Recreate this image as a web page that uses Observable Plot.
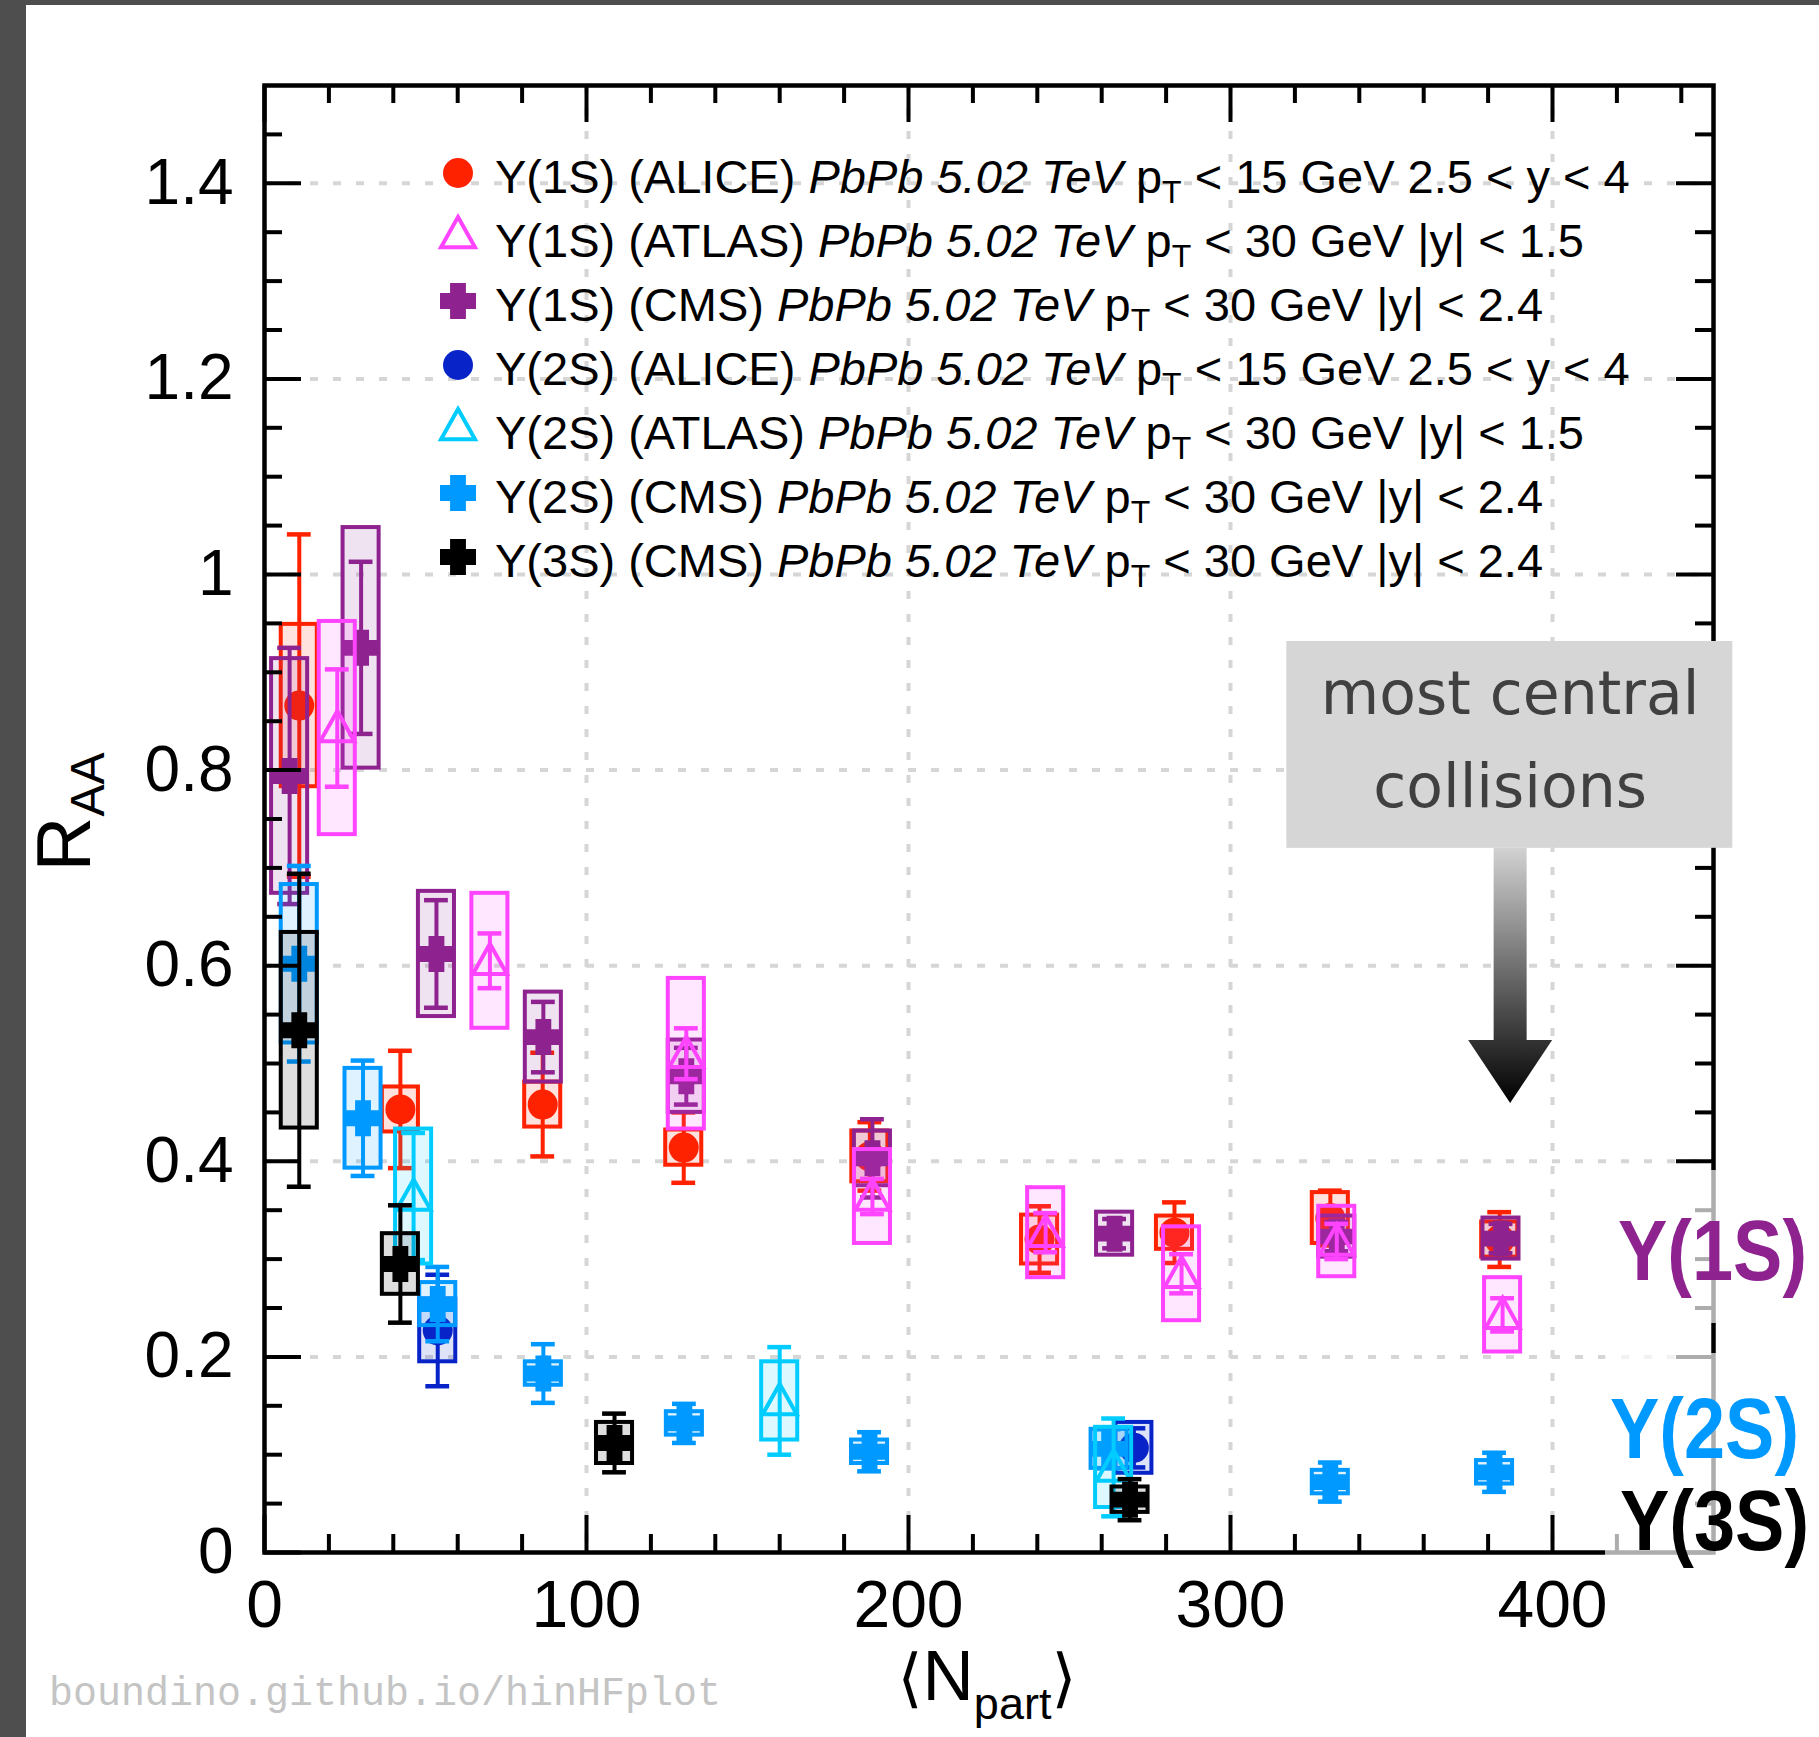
<!DOCTYPE html>
<html>
<head>
<meta charset="utf-8">
<script src="https://cdn.jsdelivr.net/npm/d3@7"></script>
<script src="https://cdn.jsdelivr.net/npm/@observablehq/plot@0.6"></script>
<style>
  html, body { margin: 0; padding: 0; background: #4e4e4e; }
  #wrap { position: relative; width: 1819px; height: 1737px; overflow: hidden; }
  #paper { position: absolute; left: 26px; top: 5px; right: 0; bottom: 0; background: #ffffff; }
  #chart { position: absolute; left: 0; top: 0; }
</style>
</head>
<body>
<div id="wrap"><div id="paper"></div><div id="chart"></div></div>
<script>
// ---------------- data ----------------
// Υ(1S) ALICE
const alice1S_npart = [10.8, 42.2, 86.4, 130.2, 188.0, 240.7, 282.6, 331.0, 383.6];
const alice1S_raa   = [0.866, 0.453, 0.458, 0.414, 0.405, 0.320, 0.327, 0.342, 0.320];
const alice1S_stat  = [0.175, 0.060, 0.053, 0.036, 0.035, 0.034, 0.031, 0.028, 0.028];
const alice1S_sys   = [0.083, 0.023, 0.023, 0.018, 0.026, 0.025, 0.017, 0.026, 0.018];
// Υ(1S) ATLAS
const atlas1S_npart = [22.6, 70.0, 131.0, 188.8, 242.6, 284.8, 333.0, 384.5];
const atlas1S_raa   = [0.843, 0.605, 0.510, 0.364, 0.327, 0.285, 0.318, 0.243];
const atlas1S_stat  = [0.060, 0.028, 0.026, 0.018, 0.020, 0.020, 0.018, 0.017];
const atlas1S_sys   = [0.109, 0.069, 0.077, 0.048, 0.046, 0.048, 0.036, 0.038];
// Υ(1S) CMS
const cms1S_npart = [7.8, 30.0, 53.4, 86.6, 131.0, 188.8, 264.0, 333.0, 384.0];
const cms1S_raa   = [0.794, 0.925, 0.612, 0.527, 0.487, 0.403, 0.326, 0.323, 0.321];
const cms1S_stat  = [0.131, 0.088, 0.055, 0.036, 0.029, 0.040, 0.015, 0.015, 0.015];
const cms1S_sys   = [0.120, 0.123, 0.064, 0.046, 0.037, 0.028, 0.022, 0.021, 0.021];
// Υ(2S) ALICE
const alice2S_npart = [53.8, 270.0];
const alice2S_raa   = [0.227, 0.107];
const alice2S_stat  = [0.057, 0.020];
const alice2S_sys   = [0.032, 0.026];
// Υ(2S) ATLAS
const atlas2S_npart = [46.3, 160.0, 263.7];
const atlas2S_raa   = [0.364, 0.155, 0.087];
const atlas2S_stat  = [0.065, 0.055, 0.050];
const atlas2S_sys   = [0.069, 0.040, 0.041];
// Υ(2S) CMS
const cms2S_npart = [10.8, 30.6, 53.8, 86.6, 130.4, 187.9, 262.3, 331.0, 382.0];
const cms2S_raa   = [0.602, 0.444, 0.254, 0.183, 0.132, 0.103, 0.106, 0.072, 0.082];
const cms2S_stat  = [0.100, 0.059, 0.038, 0.030, 0.020, 0.020, 0.020, 0.020, 0.020];
const cms2S_sys   = [0.081, 0.051, 0.022, 0.012, 0.012, 0.012, 0.020, 0.012, 0.012];
// Υ(3S) CMS
const cms3S_npart = [10.8, 42.2, 108.7, 268.8];
const cms3S_raa   = [0.534, 0.295, 0.112, 0.054];
const cms3S_stat  = [0.160, 0.060, 0.030, 0.021];
const cms3S_sys   = [0.100, 0.031, 0.021, 0.013];

// tick labels
const xTickValues = [0, 100, 200, 300, 400];
const yTickValues = [0, 0.2, 0.4, 0.6, 0.8, 1, 1.2, 1.4];
const yTickLabels = ["0", "0.2", "0.4", "0.6", "0.8", "1", "1.2", "1.4"];

// legend text
const legendNames = ["Υ(1S) (ALICE)", "Υ(1S) (ATLAS)", "Υ(1S) (CMS)", "Υ(2S) (ALICE)", "Υ(2S) (ATLAS)", "Υ(2S) (CMS)", "Υ(3S) (CMS)"];
const legendPt    = ["< 15 GeV 2.5 < y < 4", "< 30 GeV |y| < 1.5", "< 30 GeV |y| < 2.4", "< 15 GeV 2.5 < y < 4", "< 30 GeV |y| < 1.5", "< 30 GeV |y| < 2.4", "< 30 GeV |y| < 2.4"];
const legendSystem = "PbPb 5.02 TeV";
const stateLabels = ["Υ(1S)", "Υ(2S)", "Υ(3S)"];
const annotationLines = ["most central", "collisions"];
const watermark = "boundino.github.io/hinHFplot";

// ---------------- symbols ----------------
const crossSym = {draw(ctx, size) {
  const r = Math.sqrt(size / Math.PI), a = r * 0.44;
  ctx.moveTo(-a, -r); ctx.lineTo(a, -r); ctx.lineTo(a, -a); ctx.lineTo(r, -a);
  ctx.lineTo(r, a); ctx.lineTo(a, a); ctx.lineTo(a, r); ctx.lineTo(-a, r);
  ctx.lineTo(-a, a); ctx.lineTo(-r, a); ctx.lineTo(-r, -a); ctx.lineTo(-a, -a); ctx.closePath();
}};
const triSym = {draw(ctx, size) {
  const r = Math.sqrt(size / Math.PI);
  ctx.moveTo(0, -r); ctx.lineTo(r, r * 0.78); ctx.lineTo(-r, r * 0.78); ctx.closePath();
}};

const C = {red: "#ff2200", pink: "#ff44ff", purple: "#8e2390", dblue: "#0824c8", cyan: "#00ccff", lblue: "#0099ff", black: "#000000"};

const series = [
  {key: "alice1S", color: C.red, symbol: "circle", r: 15, open: false, x: alice1S_npart, y: alice1S_raa, stat: alice1S_stat, sys: alice1S_sys},
  {key: "cms1S", color: C.purple, symbol: crossSym, r: 18, open: false, x: cms1S_npart, y: cms1S_raa, stat: cms1S_stat, sys: cms1S_sys},
  {key: "atlas1S", color: C.pink, symbol: triSym, r: 17, open: true, x: atlas1S_npart, y: atlas1S_raa, stat: atlas1S_stat, sys: atlas1S_sys},
  {key: "alice2S", color: C.dblue, symbol: "circle", r: 15, open: false, x: alice2S_npart, y: alice2S_raa, stat: alice2S_stat, sys: alice2S_sys},
  {key: "cms2S", color: C.lblue, symbol: crossSym, r: 18, open: false, x: cms2S_npart, y: cms2S_raa, stat: cms2S_stat, sys: cms2S_sys},
  {key: "atlas2S", color: C.cyan, symbol: triSym, r: 17, open: true, x: atlas2S_npart, y: atlas2S_raa, stat: atlas2S_stat, sys: atlas2S_sys},
  {key: "cms3S", color: C.black, symbol: crossSym, r: 18, open: false, x: cms3S_npart, y: cms3S_raa, stat: cms3S_stat, sys: cms3S_sys}
];
// legend order
const legendSeries = ["alice1S", "atlas1S", "cms1S", "alice2S", "atlas2S", "cms2S", "cms3S"].map(k => series.find(s => s.key === k));

const BOX = 5.6;  // half width of systematic boxes (x units)
const CAP = 3.7;  // half width of error caps (x units)

function seriesMarks(s) {
  const rows = s.x.map((x, i) => ({x, y: s.y[i], stat: s.stat[i], sys: s.sys[i]}));
  const c = s.color;
  return [
    Plot.rect(rows, {x1: d => d.x - BOX, x2: d => d.x + BOX, y1: d => d.y - d.sys, y2: d => d.y + d.sys,
      fill: c, fillOpacity: 0.13, stroke: c, strokeWidth: 4}),
    Plot.ruleX(rows, {x: "x", y1: d => d.y - d.stat, y2: d => d.y + d.stat, stroke: c, strokeWidth: 4}),
    Plot.ruleY(rows, {y: d => d.y + d.stat, x1: d => d.x - CAP, x2: d => d.x + CAP, stroke: c, strokeWidth: 4.5}),
    Plot.ruleY(rows, {y: d => d.y - d.stat, x1: d => d.x - CAP, x2: d => d.x + CAP, stroke: c, strokeWidth: 4.5}),
    Plot.dot(rows, {x: "x", y: "y", symbol: s.symbol, r: s.r,
      fill: s.open ? "none" : c, stroke: s.open ? c : "none", strokeWidth: s.open ? 4 : 0})
  ];
}

// ---------------- layout ----------------
const W = 1819, H = 1737;
const mL = 264, mR = 106, mT = 85, mB = 185;
const innerW = W - mL - mR, innerH = H - mT - mB;
const majT = 37, minT = 18;
const minorX = d3.range(1, 23).map(i => i * 20).filter(v => v % 100 !== 0);
const minorY = d3.range(1, 30).filter(i => i % 4 !== 0).map(i => i * 0.05);
const gridX = xTickValues.filter(v => v > 0);
const gridY = yTickValues.filter(v => v > 0);
const FONT = "'Liberation Sans', Arial, Helvetica, sans-serif";

const tickStyle = {stroke: "black", strokeWidth: 4};
const gridStyle = {stroke: "#d6d6d6", strokeWidth: 4, strokeDasharray: "8,15"};

const plot = Plot.plot({
  width: W, height: H,
  marginLeft: mL, marginRight: mR, marginTop: mT, marginBottom: mB,
  x: {domain: [0, 450]},
  y: {domain: [0, 1.5]},
  style: {background: "transparent", fontFamily: FONT, overflow: "visible"},
  marks: [
    Plot.ruleX(gridX, gridStyle),
    Plot.ruleY(gridY, gridStyle),
    ...series.flatMap(seriesMarks),
    Plot.ruleX(xTickValues, {...tickStyle, insetTop: innerH - majT}),
    Plot.ruleX(xTickValues, {...tickStyle, insetBottom: innerH - majT}),
    Plot.ruleX(minorX, {...tickStyle, insetTop: innerH - minT}),
    Plot.ruleX(minorX, {...tickStyle, insetBottom: innerH - minT}),
    Plot.ruleY(yTickValues, {...tickStyle, insetRight: innerW - majT}),
    Plot.ruleY(yTickValues, {...tickStyle, insetLeft: innerW - majT}),
    Plot.ruleY(minorY, {...tickStyle, insetRight: innerW - minT}),
    Plot.ruleY(minorY, {...tickStyle, insetLeft: innerW - minT}),
    Plot.frame({stroke: "black", strokeWidth: 4.5}),
    Plot.axisX({ticks: xTickValues, tickSize: 0, tickPadding: 28, fontSize: 66, tickFormat: d => String(d), label: null, fill: "black"}),
    Plot.axisY({ticks: yTickValues, tickSize: 0, tickPadding: 31, fontSize: 64, tickFormat: d => yTickLabels[yTickValues.indexOf(d)], label: null, fill: "black"})
  ]
});
document.getElementById("chart").appendChild(plot);

const sx = plot.scale("x"), sy = plot.scale("y");
const X = v => sx.apply(v), Y = v => sy.apply(v);
const svg = d3.select(plot);

// ---------------- annotation: most central collisions ----------------
const defs = svg.append("defs");
const grad = defs.append("linearGradient").attr("id", "arrowGrad")
  .attr("gradientUnits", "userSpaceOnUse").attr("x1", 0).attr("x2", 0)
  .attr("y1", Y(0.72)).attr("y2", Y(0.459));
grad.append("stop").attr("offset", 0).attr("stop-color", "#d2d2d2");
grad.append("stop").attr("offset", 1).attr("stop-color", "#000000");
const ax = X(387);
const arrow = d3.path();
arrow.moveTo(ax - 16.5, Y(0.72)); arrow.lineTo(ax + 16.5, Y(0.72));
arrow.lineTo(ax + 16.5, Y(0.5235)); arrow.lineTo(ax + 42, Y(0.5235));
arrow.lineTo(ax, Y(0.459)); arrow.lineTo(ax - 42, Y(0.5235));
arrow.lineTo(ax - 16.5, Y(0.5235)); arrow.closePath();
svg.append("path").attr("d", arrow.toString()).attr("fill", "url(#arrowGrad)");
svg.append("rect").attr("x", X(317.5)).attr("y", Y(0.9315))
  .attr("width", X(456) - X(317.5)).attr("height", Y(0.72) - Y(0.9315)).attr("fill", "#d6d6d6");
const annY = [0.857, 0.762];
annotationLines.forEach((t, i) => {
  svg.append("text").attr("x", ax).attr("y", Y(annY[i])).attr("text-anchor", "middle")
    .attr("font-family", "'DejaVu Sans', sans-serif").attr("font-size", 60).attr("fill", "#404040").text(t);
});

// ---------------- legend ----------------
const lg = svg.append("g").attr("font-family", FONT).attr("font-size", 47).attr("fill", "black").attr("text-anchor", "start");
legendSeries.forEach((s, i) => {
  const base = 193 + 64 * i;
  const sym = d3.symbol(s.symbol === "circle" ? d3.symbolCircle : s.symbol, Math.PI * s.r * s.r)();
  lg.append("path").attr("d", sym)
    .attr("transform", `translate(458,${base - (s.open ? 23 : 20)})`)
    .attr("fill", s.open ? "none" : s.color).attr("stroke", s.open ? s.color : "none").attr("stroke-width", 4);
  const t = lg.append("text").attr("x", 495).attr("y", base).attr("text-anchor", "start");
  t.append("tspan").text(legendNames[i] + " ");
  t.append("tspan").attr("font-style", "italic").text(legendSystem);
  t.append("tspan").text(" p");
  t.append("tspan").attr("font-size", 32).attr("dy", 10).text("T");
  t.append("tspan").attr("dy", -10).text(" " + legendPt[i]);
});

// ---------------- axis titles ----------------
const yt = svg.append("text").attr("transform", `translate(90,812) rotate(-90)`)
  .attr("text-anchor", "middle").attr("font-family", FONT).attr("font-size", 76).attr("fill", "black");
yt.append("tspan").text("R");
yt.append("tspan").attr("font-size", 48).attr("dy", 14).text("AA");

const xt = svg.append("text").attr("x", 987).attr("y", 1700).attr("text-anchor", "middle")
  .attr("font-family", FONT).attr("font-size", 71).attr("fill", "black");
xt.append("tspan").attr("font-family", "'DejaVu Sans', sans-serif").attr("font-size", 64).text("⟨");
xt.append("tspan").text("N");
xt.append("tspan").attr("font-size", 45).attr("dy", 19).text("part");
xt.append("tspan").attr("dy", -19).attr("font-family", "'DejaVu Sans', sans-serif").attr("font-size", 64).text("⟩");

// ---------------- watermark ----------------
svg.append("text").attr("x", 49).attr("y", 1705).attr("text-anchor", "start")
  .attr("font-family", "'Liberation Mono', 'Courier New', monospace")
  .attr("font-size", 40).attr("fill", "#c4c4c4").text(watermark);

// ---------------- state labels at right ----------------
svg.append("rect").attr("x", 1605).attr("y", 1170).attr("width", 214).attr("height", 153).attr("fill", "white").attr("fill-opacity", 0.68);
svg.append("rect").attr("x", 1605).attr("y", 1353).attr("width", 214).attr("height", 215).attr("fill", "white").attr("fill-opacity", 0.68);
const stateColors = [C.purple, C.lblue, C.black];
const stateX = [1618, 1610, 1620];
const stateBase = [1280, 1458, 1550];
stateLabels.forEach((t, i) => {
  svg.append("text").attr("transform", `translate(${stateX[i]},${stateBase[i]}) scale(0.86,1)`)
    .attr("text-anchor", "start").attr("font-family", FONT).attr("font-weight", "bold")
    .attr("font-size", 86).attr("fill", stateColors[i]).text(t);
});
</script>
</body>
</html>
